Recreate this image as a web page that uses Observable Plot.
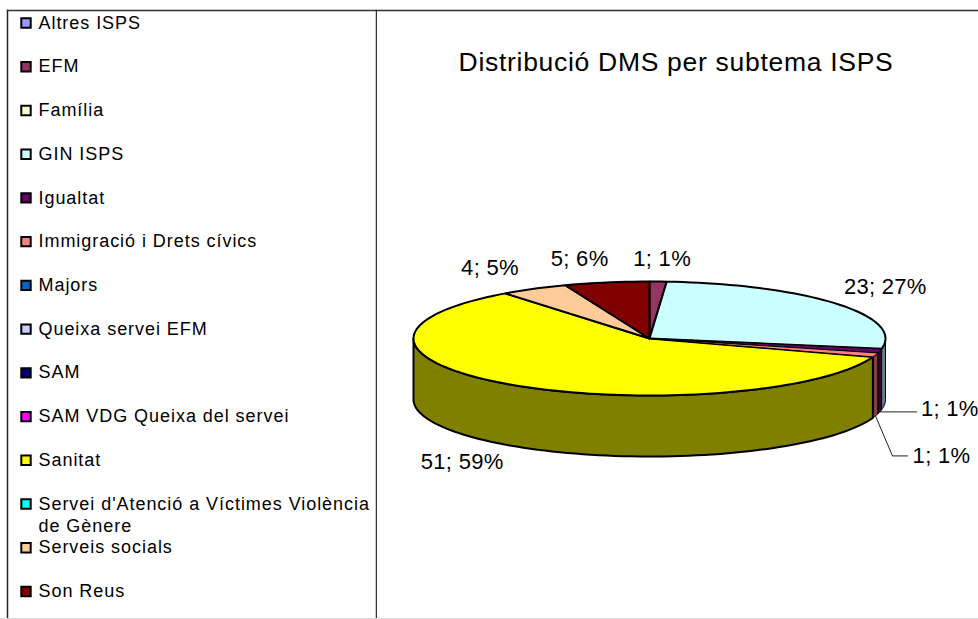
<!DOCTYPE html>
<html lang="ca">
<head>
<meta charset="utf-8">
<script src="https://cdn.jsdelivr.net/npm/d3@7"></script>
<script src="https://cdn.jsdelivr.net/npm/@observablehq/plot@0.6"></script>
<style>
html,body{margin:0;padding:0;background:#fff;}
#chart{display:flex;width:978px;height:619px;overflow:hidden;box-sizing:border-box;border-bottom:1px solid #dcdcdc;}
svg{display:block;flex:none;font-family:"Liberation Sans",Arial,sans-serif;}
.spaced-legend text{letter-spacing:.95px;}
.spaced-title text{letter-spacing:.7px;}
.spaced-label text{letter-spacing:.3px;}
</style>
</head>
<body>
<div id="chart"></div>
<script>
const categories = ["Altres ISPS","EFM","Família","GIN ISPS","Igualtat","Immigració i Drets cívics","Majors","Queixa servei EFM","SAM","SAM VDG Queixa del servei","Sanitat","Servei d'Atenció a Víctimes Violència\nde Gènere","Serveis socials","Son Reus"];
const values = [0,1,0,23,1,1,0,0,0,0,51,0,4,5];
const percents = [0,1,0,27,1,1,0,0,0,0,59,0,5,6];
const colors = ["#9999FF","#993366","#FFFFCC","#CCFFFF","#660066","#FF8080","#0066CC","#CCCCFF","#000080","#FF00FF","#FFFF00","#00FFFF","#FFCC99","#800000"];
const title = "Distribució DMS per subtema ISPS";

// Pie geometry
const RX = 236, RY = 57, DEPTH = 61 / 57;
const toRad = Math.PI / 180;
const rim = (a, drop = 0) => ({px: Math.sin(a), py: -Math.cos(a) + drop});

// Label nudges from each slice's rim point, in pixels
const labelNudge = {
  "EFM": [4, -23], "GIN ISPS": [49, -17], "Igualtat": [70, 58],
  "Immigració i Drets cívics": [66, 101], "Sanitat": [-50, 77.5],
  "Serveis socials": [-44, -21], "Son Reus": [-27, -23]
};
const thinSlices = new Set(["Igualtat", "Immigració i Drets cívics"]);

const rows = categories.map((name, i) => ({name, value: values[i], pct: percents[i], color: colors[i]}));
const arcs = d3.pie().sort(null).value(d => d.value)(rows).filter(a => a.value > 0);

function arcPoints(a0, a1) {
  const n = Math.max(2, Math.ceil((a1 - a0) / (2 * toRad)));
  return d3.range(n + 1).map(i => a0 + (a1 - a0) * i / n);
}

const tops = [], sides = [];
for (const a of arcs) {
  const color = a.data.color;
  const poly = [{px: 0, py: 0}, ...arcPoints(a.startAngle, a.endAngle).map(t => rim(t)), {px: 0, py: 0}];
  poly.forEach(p => tops.push({...p, key: a.data.name, color}));
  const s = Math.max(a.startAngle, Math.PI / 2), e = Math.min(a.endAngle, 3 * Math.PI / 2);
  if (e > s) {
    const ang = arcPoints(s, e);
    const c = d3.rgb(color);
    const dark = d3.rgb(c.r / 2, c.g / 2, c.b / 2).formatHex();
    const wall = [...ang.map(t => rim(t)), ...ang.slice().reverse().map(t => rim(t, DEPTH))];
    wall.push(wall[0]);
    wall.forEach(p => sides.push({...p, key: a.data.name, color: dark}));
  }
}

const labels = arcs.map(a => {
  const mid = (a.startAngle + a.endAngle) / 2;
  const [dx, dy] = labelNudge[a.data.name];
  const p = rim(mid);
  return {name: a.data.name, mid, px: p.px + dx / RX, py: p.py + dy / RY, text: `${a.value}; ${a.data.pct}%`};
});

const leaders = [];
const lab = n => labels.find(l => l.name === n);
{
  const l = lab("Igualtat"), s = rim(l.mid, DEPTH);
  leaders.push({...s, key: "a"}, {px: l.px - 33 / RX, py: s.py, key: "a"});
  const m = lab("Immigració i Drets cívics"), t = rim(m.mid, DEPTH);
  leaders.push({...t, key: "b"}, {px: m.px - 49 / RX, py: m.py, key: "b"}, {px: m.px - 34 / RX, py: m.py, key: "b"});
}

const isThin = d => thinSlices.has(d.key);
const isSanitat = d => d.key === "Sanitat";

const legendPlot = Plot.plot({
  width: 377, height: 618,
  marginLeft: 7, marginRight: 1, marginTop: 10, marginBottom: 0,
  style: {background: "#fff", overflow: "visible"},
  x: {axis: null},
  y: {type: "point", padding: 0, round: false, domain: categories, range: [22.5, 591], axis: null},
  color: {type: "identity"},
  marks: [
    Plot.frame({anchor: "left", stroke: "#222", strokeWidth: 1.5}),
    Plot.frame({anchor: "top", stroke: "#333", strokeWidth: 1.5}),
    Plot.frame({anchor: "right", stroke: "#333", strokeWidth: 1.5}),
    Plot.dot(rows, {y: "name", frameAnchor: "left", dx: 18.5, symbol: "square", r: 5.3, fill: "color", stroke: "#000", strokeWidth: 2}),
    Plot.text(rows, {y: "name", text: "name", frameAnchor: "left", dx: 31, dy: -10, textAnchor: "start", lineAnchor: "top", fontSize: 18, lineHeight: 1.22, fill: "#000", className: "spaced-legend"})
  ]
});

const piePlot = Plot.plot({
  width: 601, height: 618,
  marginLeft: 0, marginRight: 0, marginTop: 10, marginBottom: 0,
  style: {background: "#fff", overflow: "visible"},
  x: {domain: [-1, 1], range: [413 - 377, 885 - 377], axis: null},
  y: {domain: [-1, 1], range: [281, 395], axis: null},
  color: {type: "identity"},
  marks: [
    Plot.frame({anchor: "top", stroke: "#333", strokeWidth: 1.5}),
    Plot.text([title], {frameAnchor: "top", dy: 41.5, dx: -2, lineAnchor: "top", fontSize: 26.5, fill: "#000", className: "spaced-title"}),
    Plot.line(leaders, {x: "px", y: "py", z: "key", stroke: "#222", strokeWidth: 1}),
    Plot.line(sides.filter(d => !isSanitat(d)), {x: "px", y: "py", z: "key", fill: "color", stroke: "#000", strokeWidth: 1}),
    Plot.line(sides.filter(isSanitat), {x: "px", y: "py", z: "key", fill: "color", stroke: "#000", strokeWidth: 2}),
    Plot.line(tops.filter(d => !isThin(d)), {x: "px", y: "py", z: "key", fill: "color", stroke: "#000", strokeWidth: 2}),
    Plot.line(tops.filter(isThin), {x: "px", y: "py", z: "key", fill: "color", stroke: "#000", strokeWidth: 1}),
    Plot.text(labels, {x: "px", y: "py", text: "text", fontSize: 22, fill: "#000", className: "spaced-label"})
  ]
});

document.getElementById("chart").append(legendPlot, piePlot);
</script>
</body>
</html>
